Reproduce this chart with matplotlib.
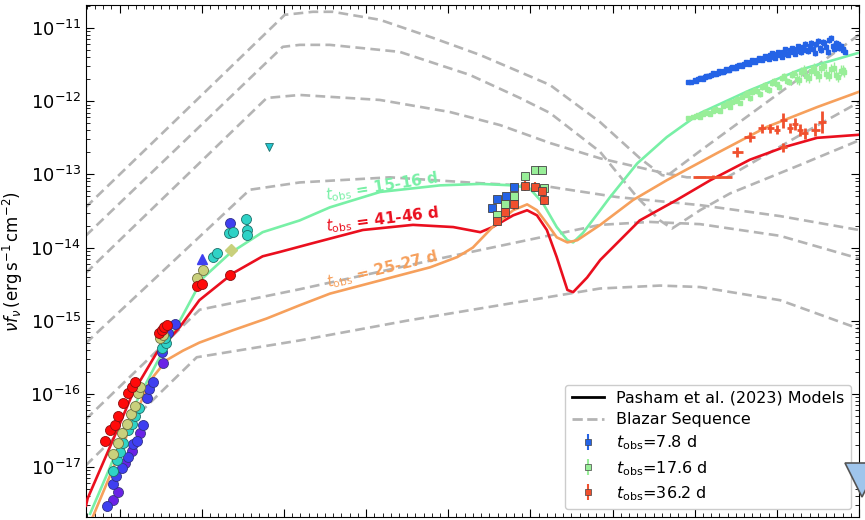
import numpy as np
import matplotlib.pyplot as plt
from matplotlib.ticker import NullFormatter

# log10 frequency (Hz) / log10 nuFnu (erg s^-1 cm^-2)

# Pasham et al. (2023) model curves
green_x = [9.64, 9.88, 10.18, 10.45, 10.69, 11.01, 11.34, 11.74, 12.19, 12.56, 13.17, 13.90, 14.39, 14.79,
           14.99, 15.15, 15.32, 15.45, 15.52, 15.64, 15.85, 15.97, 16.30, 16.66, 17.07, 17.67, 18.28, 19.05]
green_y = [-17.64, -17.01, -16.16, -15.58, -15.09, -14.42, -14.08, -13.79, -13.63, -13.45, -13.24, -13.15, -13.13,
           -13.15, -13.19, -13.39, -13.72, -13.90, -13.93, -13.80, -13.49, -13.31, -12.85, -12.49, -12.16, -11.85,
           -11.57, -11.32]

red_x = [9.59, 9.61, 9.88, 10.16, 10.45, 10.73, 10.97, 11.38, 11.74, 11.95, 12.35, 12.96, 13.57, 14.06, 14.39,
         14.54, 14.79, 14.96, 15.08, 15.20, 15.32, 15.45, 15.52, 15.69, 15.85, 16.33, 16.78, 17.19, 17.67, 18.08,
         18.49, 18.98, 19.07]
red_y = [-17.53, -17.43, -16.73, -15.99, -15.44, -15.09, -14.72, -14.35, -14.12, -14.06, -13.94, -13.76, -13.69,
         -13.72, -13.79, -13.72, -13.56, -13.49, -13.56, -13.76, -14.13, -14.58, -14.61, -14.41, -14.17, -13.63,
         -13.35, -13.08, -12.80, -12.63, -12.50, -12.46, -12.45]

orange_x = [9.67, 9.96, 10.16, 10.37, 10.57, 10.77, 10.97, 11.38, 11.79, 12.19, 12.56, 13.17, 13.78, 14.11,
            14.30, 14.54, 14.79, 14.96, 15.08, 15.20, 15.32, 15.45, 15.57, 15.85, 16.25, 16.66, 17.27, 17.88,
            18.49, 19.05]
orange_y = [-17.69, -16.91, -16.37, -15.82, -15.54, -15.41, -15.30, -15.13, -14.97, -14.79, -14.63, -14.45,
            -14.27, -14.13, -14.00, -13.72, -13.49, -13.41, -13.49, -13.67, -13.86, -13.93, -13.90, -13.69,
            -13.35, -13.08, -12.71, -12.35, -12.08, -11.85]

# blazar sequence
bz1_x = [9.586, 12.01, 12.351, 12.594, 13.167, 13.812, 14.385, 14.872, 15.238, 15.847, 16.334, 16.602, 16.663,
         17.065, 17.796, 18.283, 19.05]
bz1_y = [-13.45, -10.818, -10.777, -10.777, -10.886, -11.133, -11.366, -11.60, -11.777, -12.284, -12.78, -13.01,
         -13.02, -12.68, -12.08, -11.68, -11.05]
bz2_x = [9.586, 11.985, 12.192, 12.558, 13.41, 14.263, 14.872, 15.238, 15.847, 16.297, 16.577, 16.724, 17.065,
         17.43, 18.283, 19.01]
bz2_y = [-13.84, -11.256, -11.229, -11.229, -11.325, -11.64, -11.955, -12.16, -12.69, -13.31, -13.63, -13.74,
         -13.49, -13.26, -12.87, -12.53]
bz3_x = [9.586, 11.79, 12.192, 13.167, 14.02, 14.628, 15.238, 15.847, 16.614, 16.906, 17.394, 18.283, 19.05]
bz3_y = [-14.35, -11.955, -11.914, -11.982, -12.147, -12.325, -12.571, -12.78, -12.98, -13.04, -13.04, -12.462,
         -11.982]
bz4_x = [9.586, 11.583, 12.192, 13.289, 14.385, 15.238, 16.054, 17.065, 18.039, 18.999]
bz4_y = [-15.31, -13.21, -13.11, -13.04, -13.12, -13.17, -13.31, -13.42, -13.57, -13.76]
bz5_x = [9.586, 10.974, 12.192, 13.898, 15.847, 16.456, 17.065, 18.039, 18.999]
bz5_y = [-16.35, -14.85, -14.57, -14.15, -13.69, -13.65, -13.68, -13.84, -14.15]
bz6_x = [9.586, 10.938, 12.192, 13.496, 15.847, 16.577, 17.065, 18.039, 18.999]
bz6_y = [-16.98, -15.50, -15.27, -15.00, -14.56, -14.52, -14.54, -14.72, -15.11]

# radio / mm photometry, one colour per epoch group
purple_x = [9.915, 9.976, 10.061, 10.146, 10.244, 10.524]
purple_y = [-17.45, -17.34, -16.95, -16.78, -16.54, -15.58]
blue_x = [9.842, 9.915, 9.951, 10.024, 10.097, 10.158, 10.207, 10.28, 10.329, 10.353, 10.402, 10.512, 10.585,
          10.67, 11.34]
blue_y = [-17.53, -17.23, -17.13, -17.02, -16.87, -16.69, -16.64, -16.43, -16.06, -15.93, -15.84, -15.43, -15.17,
          -15.05, -13.67]
cyan_x = [9.915, 9.963, 10.0, 10.037, 10.097, 10.146, 10.183, 10.231, 10.512, 10.56, 10.548, 11.133, 11.181,
          11.328, 11.376, 11.535, 11.547, 11.547]
cyan_y = [-17.05, -16.91, -16.80, -16.67, -16.50, -16.41, -16.31, -16.19, -15.38, -15.31, -15.24, -14.13, -14.08,
          -13.80, -13.79, -13.61, -13.76, -13.83]
khaki_x = [9.915, 9.976, 10.024, 10.085, 10.134, 10.183, 10.219, 10.244, 10.487, 10.524, 10.938, 11.011]
khaki_y = [-16.82, -16.67, -16.54, -16.41, -16.27, -16.16, -15.99, -15.91, -15.23, -15.19, -14.41, -14.31]
red_pts_x = [9.817, 9.878, 9.939, 9.976, 10.037, 10.097, 10.146, 10.183, 10.475, 10.512, 10.536, 10.572,
             10.938, 10.999, 11.34]
red_pts_y = [-16.64, -16.50, -16.43, -16.30, -16.13, -15.99, -15.91, -15.84, -15.17, -15.13, -15.09, -15.06,
             -14.52, -14.50, -14.38]

# optical / UV
opt_blue_x = [14.531, 14.592, 14.702, 14.799]
opt_blue_y = [-13.46, -13.34, -13.30, -13.17]
opt_green_x = [14.592, 14.689, 14.799, 14.933, 15.055, 15.14, 15.164]
opt_green_y = [-13.56, -13.41, -13.30, -13.02, -12.94, -12.94, -13.19]
opt_red_x = [14.592, 14.689, 14.799, 14.933, 15.055, 15.14, 15.164]
opt_red_y = [-13.64, -13.52, -13.41, -13.16, -13.17, -13.23, -13.35]

# X-ray spectra
xb_x = [16.92, 16.96, 17.00, 17.04, 17.08, 17.12, 17.16, 17.20, 17.24, 17.28, 17.32, 17.36, 17.40, 17.44, 17.48,
        17.52, 17.56, 17.60, 17.64, 17.68, 17.72, 17.76, 17.80, 17.84, 17.88, 17.92, 17.96, 18.00, 18.04, 18.08,
        18.12, 18.16, 18.20, 18.24, 18.28, 18.32, 18.36, 18.40, 18.44, 18.48, 18.52, 18.56, 18.60, 18.64, 18.68,
        18.72, 18.76, 18.80, 18.83,
        17.02, 17.06, 17.10, 17.14, 17.18, 17.22, 17.26, 17.30, 17.34, 17.38, 17.42, 17.46, 17.50, 17.54, 17.58,
        17.62, 17.66, 17.70, 17.74, 17.78, 17.82, 17.86, 17.90, 17.94, 17.98, 18.02, 18.06, 18.10, 18.14, 18.18,
        18.22, 18.26, 18.30, 18.34, 18.38, 18.42, 18.46, 18.50, 18.54, 18.58, 18.62, 18.66, 18.70, 18.74, 18.78,
        18.81]
xb_y = [-11.74, -11.73, -11.71, -11.70, -11.68, -11.67, -11.66, -11.64, -11.63, -11.61, -11.60, -11.58, -11.57,
        -11.55, -11.54, -11.52, -11.51, -11.49, -11.48, -11.46, -11.45, -11.44, -11.42, -11.41, -11.40, -11.37,
        -11.39, -11.35, -11.37, -11.33, -11.35, -11.30, -11.33, -11.28, -11.31, -11.26, -11.30, -11.24, -11.29,
        -11.22, -11.27, -11.19, -11.26, -11.16, -11.24, -11.20, -11.27, -11.30, -11.32,
        -11.72, -11.68, -11.69, -11.65, -11.66, -11.62, -11.63, -11.59, -11.60, -11.56, -11.57, -11.53, -11.54,
        -11.50, -11.52, -11.47, -11.49, -11.44, -11.47, -11.41, -11.44, -11.38, -11.42, -11.34, -11.41, -11.32,
        -11.39, -11.29, -11.37, -11.27, -11.35, -11.25, -11.33, -11.22, -11.31, -11.20, -11.34, -11.18, -11.30,
        -11.21, -11.33, -11.14, -11.28, -11.22, -11.25, -11.29]
xb_err = [0.01] * 20 + [0.02] * 14 + [0.04] * 15 + [0.01] * 18 + [0.02] * 14 + [0.04] * 14

xg_x = [16.92, 16.98, 17.04, 17.10, 17.16, 17.22, 17.28, 17.34, 17.40, 17.46, 17.52, 17.58, 17.64, 17.70, 17.76,
        17.82, 17.88, 17.94, 18.00, 18.06, 18.12, 18.18, 18.24, 18.30, 18.36, 18.42, 18.48, 18.54, 18.60, 18.66,
        18.72, 18.78, 18.82,
        17.01, 17.07, 17.13, 17.19, 17.25, 17.31, 17.37, 17.43, 17.49, 17.55, 17.61, 17.67, 17.73, 17.79, 17.85,
        17.91, 17.97, 18.03, 18.09, 18.15, 18.21, 18.27, 18.33, 18.39, 18.45, 18.51, 18.57, 18.63, 18.69, 18.75,
        18.80]
xg_y = [-12.23, -12.21, -12.19, -12.18, -12.16, -12.13, -12.12, -12.07, -12.03, -12.01, -11.97, -11.94, -11.89,
        -11.87, -11.86, -11.80, -11.83, -11.75, -11.77, -11.68, -11.72, -11.64, -11.69, -11.60, -11.66, -11.58,
        -11.62, -11.55, -11.63, -11.56, -11.64, -11.58, -11.60,
        -12.20, -12.21, -12.15, -12.17, -12.10, -12.13, -12.05, -12.08, -11.99, -12.02, -11.92, -11.96, -11.84,
        -11.90, -11.78, -11.85, -11.72, -11.80, -11.66, -11.74, -11.62, -11.71, -11.57, -11.68, -11.55, -11.66,
        -11.52, -11.65, -11.54, -11.67, -11.57]
xg_err = [0.02] * 12 + [0.04] * 10 + [0.07] * 11 + [0.02] * 11 + [0.04] * 10 + [0.07] * 10

xr_x = [17.22, 17.52, 17.67, 17.82, 17.92, 18.00, 18.08, 18.08, 18.16, 18.22, 18.28, 18.34, 18.47, 18.55]
xr_y = [-13.03, -12.69, -12.49, -12.37, -12.37, -12.39, -12.26, -12.63, -12.37, -12.31, -12.39, -12.44, -12.39,
        -12.28]
xr_xerr = [0.24, 0.07, 0.07, 0.05, 0.04, 0.04, 0.04, 0.04, 0.04, 0.04, 0.04, 0.04, 0.05, 0.05]
xr_yerr = [0.02, 0.07, 0.07, 0.06, 0.06, 0.06, 0.10, 0.06, 0.07, 0.08, 0.08, 0.08, 0.09, 0.15]

c_green, c_red, c_orange = '#78f0a6', '#ea0f1e', '#f6a05c'
c_xb, c_xg, c_xr = '#2463e6', '#98ee98', '#f0502e'
c_bz = '#b4b4b4'

fig = plt.figure(figsize=(8.65, 5.2), dpi=100)
ax = fig.add_axes([86 / 865, 3 / 520, 773 / 865, 512 / 520])


def p(v):
    return 10 ** np.asarray(v, dtype=float)


def logerr(y, e):
    e = np.asarray(e, dtype=float)
    return [y * (1 - 10 ** -e), y * (10 ** e - 1)]


for bx, by in [(bz1_x, bz1_y), (bz2_x, bz2_y), (bz3_x, bz3_y), (bz4_x, bz4_y), (bz5_x, bz5_y), (bz6_x, bz6_y)]:
    ax.plot(bx, p(by), ls='--', color=c_bz, lw=1.9, dashes=(3.7, 2.0), zorder=1)

ax.plot(green_x, p(green_y), color=c_green, lw=1.9, zorder=3)
ax.plot(red_x, p(red_y), color=c_red, lw=1.9, zorder=3)
ax.plot(orange_x, p(orange_y), color=c_orange, lw=1.9, zorder=3)

ms = 7.2
ax.plot(purple_x, p(purple_y), 'o', ms=ms, color='#6a22e6', mec='#3a3a80', mew=0.6, zorder=4)
ax.plot(blue_x, p(blue_y), 'o', ms=ms, color='#3f3ff0', mec='#30308a', mew=0.6, zorder=4)
ax.errorbar(cyan_x, p(cyan_y), yerr=logerr(p(cyan_y), [0.0] * 16 + [0.1, 0.0]), fmt='o', ms=ms,
            color='#2fd2c6', ecolor='#2fd2c6', elinewidth=2, mec='#1f6f6a', mew=0.6, zorder=5)
ax.plot(khaki_x, p(khaki_y), 'o', ms=ms, color='#c9d07c', mec='#6f7040', mew=0.6, zorder=6)
ax.plot([11.352], p([-14.04]), 'D', ms=6.5, color='#c9d07c', zorder=6)
ax.errorbar(red_pts_x, p(red_pts_y), yerr=logerr(p(red_pts_y), [0.0] * 12 + [0.05, 0.05, 0.05]), fmt='o',
            ms=ms, color='#ff0a0a', ecolor='#ff0a0a', elinewidth=2, mec='#8a1010', mew=0.6, zorder=7)
ax.plot([10.999], p([-14.15]), '^', ms=7, color='#3f3ff0', zorder=4)
ax.plot([11.815], p([-12.63]), 'v', ms=6, color='#22c5d0', mec='#1f6f6a', mew=0.6, zorder=4)

ax.errorbar(opt_blue_x, p(opt_blue_y), yerr=logerr(p(opt_blue_y), 0.02), fmt='s', ms=6, color=c_xb,
            mec='#444444', mew=0.6, zorder=6)
ax.errorbar(opt_green_x, p(opt_green_y), yerr=logerr(p(opt_green_y), 0.02), fmt='s', ms=6, color=c_xg,
            mec='#444444', mew=0.6, zorder=6)
ax.errorbar(opt_red_x, p(opt_red_y), yerr=logerr(p(opt_red_y), 0.07), fmt='s', ms=6, color=c_xr,
            mec='#444444', mew=0.6, zorder=6)

yb = p(xb_y)
ax.errorbar(xb_x, yb, yerr=logerr(yb, xb_err), fmt='s', ms=2.2, color=c_xb, lw=1, zorder=5)
yg = p(xg_y)
ax.errorbar(xg_x, yg, yerr=logerr(yg, xg_err), fmt='s', ms=2.2, color=c_xg, lw=1, zorder=5)
yr = p(xr_y)
ax.errorbar(xr_x, yr, xerr=xr_xerr, yerr=logerr(yr, xr_yerr), fmt='none', color=c_xr, lw=2, zorder=5)

# big upper limit at the hard X-ray end
ax.plot([19.04], p([-17.18]), 'v', ms=24, color='#9fc5ec', mec='#555555', mew=1.2, clip_on=False, zorder=10)

lab_kw = dict(fontsize=11, fontweight='bold', ha='left', va='baseline', rotation_mode='anchor')
ax.text(12.52, p(-13.35), r'$t_{\rm obs}$ = 15-16 d', color=c_green, rotation=9, **lab_kw)
ax.text(12.52, p(-13.78), r'$t_{\rm obs}$ = 41-46 d', color=c_red, rotation=7, **lab_kw)
ax.text(12.53, p(-14.54), r'$t_{\rm obs}$ = 25-27 d', color=c_orange, rotation=13.5, **lab_kw)

# legend proxies
h1, = ax.plot([], [], color='k', lw=2, label='Pasham et al. (2023) Models')
h2, = ax.plot([], [], ls='--', color=c_bz, lw=2, label='Blazar Sequence')
h3 = ax.errorbar([], [], yerr=[], fmt='s', ms=5, color=c_xb, mec='#444444', mew=0.5, label=r'$t_{\rm obs}$=7.8 d')
h4 = ax.errorbar([], [], yerr=[], fmt='s', ms=5, color=c_xg, mec='#444444', mew=0.5, label=r'$t_{\rm obs}$=17.6 d')
h5 = ax.errorbar([], [], yerr=[], fmt='s', ms=5, color=c_xr, mec='#444444', mew=0.5, label=r'$t_{\rm obs}$=36.2 d')
ax.legend(handles=[h1, h2, h3, h4, h5], loc='lower right', fontsize=11.5, framealpha=1, labelspacing=0.4,
          borderaxespad=0.5)

ax.set_yscale('log')
ax.set_xlim(9.59, 19.0)
ax.set_ylim(2.07e-18, 2.07e-11)
ax.set_yticks([1e-17, 1e-16, 1e-15, 1e-14, 1e-13, 1e-12, 1e-11])
ax.yaxis.set_minor_formatter(NullFormatter())
ax.set_xticks(np.arange(10, 20))
ax.set_xticks(np.arange(9.6, 19.0, 0.1), minor=True)
ax.tick_params(which='both', direction='in', top=True, right=True, labelbottom=False, labelsize=13)
ax.tick_params(which='major', length=6)
ax.tick_params(which='minor', length=3)
ax.set_ylabel(r'$\nu f_\nu\,(\mathrm{erg\,s^{-1}\,cm^{-2}})$', fontsize=12, labelpad=4)

fig.savefig('out.png', dpi=100)
